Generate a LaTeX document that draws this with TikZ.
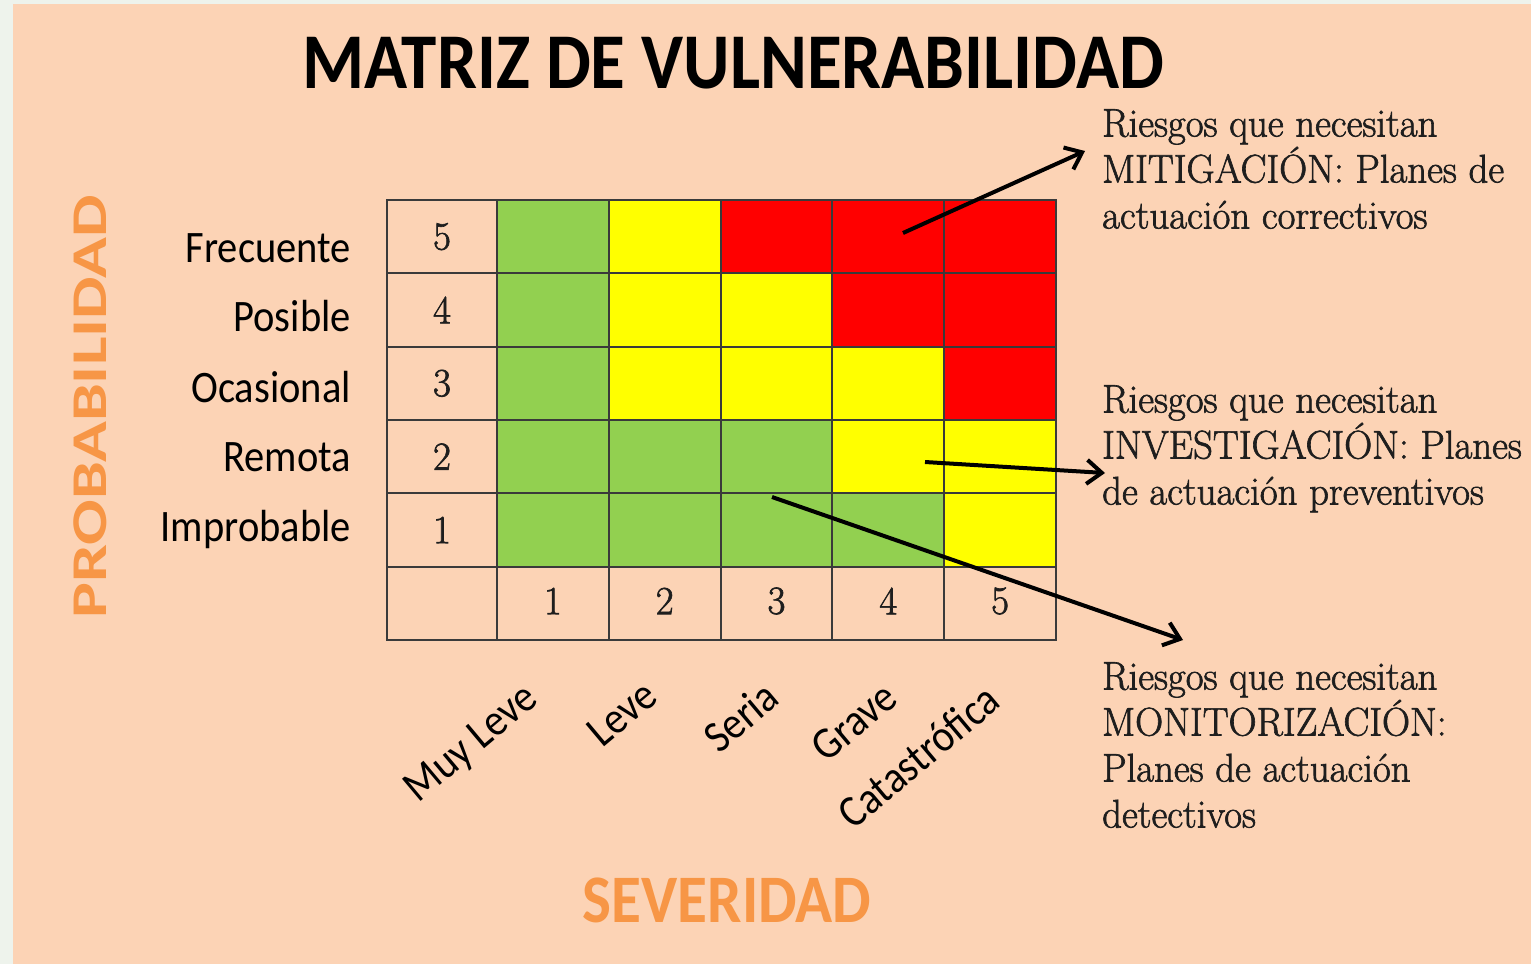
\documentclass[tikz,border=0pt]{standalone}
\usepackage{fontspec}
\usetikzlibrary{arrows.meta}
\newfontfamily\calib[FakeStretch=0.9]{Carlito}
\newfontfamily\probfont[FakeStretch=1.35]{Carlito}
\newfontfamily\serifx[FakeStretch=0.97,FakeBold=1.6]{Latin Modern Roman}
\definecolor{peach}{HTML}{FCD3B5}
\definecolor{gcell}{HTML}{92D050}
\definecolor{ycell}{HTML}{FFFF00}
\definecolor{rcell}{HTML}{FF0000}
\definecolor{orng}{HTML}{F79646}
\definecolor{gridc}{HTML}{3A3A3A}
\definecolor{strip}{HTML}{EEF3EC}
\definecolor{ink}{HTML}{1E1E1E}
\begin{document}
\begin{tikzpicture}[x=1pt,y=-1pt,
  gridline/.style={draw=gridc,line width=2pt},
  num/.style={font=\serifx\fontsize{40}{44}\selectfont,text=ink,inner sep=0pt},
  rowlab/.style={font=\calib\fontsize{45}{50}\selectfont,anchor=base east,inner sep=0pt},
  collab/.style={font=\calib\fontsize{45}{50}\selectfont,anchor=base east,rotate=40,inner sep=0pt},
  note/.style={font=\serifx\fontsize{40}{46}\selectfont,text=ink,align=left,anchor=north west,inner sep=0pt},
  pointer/.style={line width=4pt,-{Straight Barb[length=15pt,width=24pt,line width=4pt]}}]
\useasboundingbox (0,0) rectangle (1531,964);
\fill[strip] (0,0) rectangle (1531,964);
\fill[peach] (13,4) rectangle (1531,964);
% title
\node[font=\calib\bfseries\fontsize{79}{90}\selectfont,anchor=base,inner sep=0pt] (title) at (733,88) {MATRIZ DE VULNERABILIDAD};
% cells
\foreach \row [count=\r] in {{gcell,ycell,rcell,rcell,rcell},{gcell,ycell,ycell,rcell,rcell},{gcell,ycell,ycell,ycell,rcell},{gcell,gcell,gcell,ycell,ycell},{gcell,gcell,gcell,gcell,ycell}}{
  \foreach \c [count=\k] in \row {
    \fill[\c] ({497+(\k-1)*111.8},{200+(\r-1)*73.33}) rectangle ++(111.8,73.33);
  }
}
% grid
\foreach \k in {1,...,5} \draw[gridline] ({497+(\k-1)*111.8},200) -- ({497+(\k-1)*111.8},640);
\foreach \k in {1,...,5} \draw[gridline] (387,{200+\k*73.33}) -- (1056,{200+\k*73.33});
\draw[gridline] (387,200) rectangle (1056,640);
% numbers
\foreach \n [count=\r] in {5,4,3,2,1} \node[num] (p\n) at (442,{200+(\r-0.5)*73.33}) {\n};
\foreach \n in {1,...,5} \node[num] (s\n) at ({497+(\n-0.5)*111.8},601) {\n};
% row labels
\node[rowlab] (lf) at (351,262) {Frecuente};
\node[rowlab] (lp) at (351,331) {Posible};
\node[rowlab] (lo) at (351,402) {Ocasional};
\node[rowlab] (lr) at (351,471) {Remota};
\node[rowlab] (li) at (351,541) {Improbable};
% column labels
\node[collab] (cml) at (540,702) {Muy Leve};
\node[collab] (cl) at (660,700) {Leve};
\node[collab] (cs) at (782,702) {Seria};
\node[collab] (cg) at (900,702) {Grave};
\node[collab] (cc) at (1003,705) {Catastrófica};
% axis labels
\node[font=\probfont\bfseries\fontsize{50}{55}\selectfont,text=orng,rotate=90,anchor=base,inner sep=0pt] (prob) at (106,407) {PROBABILIDAD};
\node[font=\calib\bfseries\fontsize{68}{75}\selectfont,text=orng,anchor=base,inner sep=0pt] (sev) at (727,922) {SEVERIDAD};
% notes
\node[note] (nmit) at (1102,109) {Riesgos que necesitan\\MITIGACIÓN: Planes de\\actuación correctivos};
\node[note] (ninv) at (1102,385) {Riesgos que necesitan\\INVESTIGACIÓN: Planes\\de actuación preventivos};
\node[note] (nmon) at (1102,662) {Riesgos que necesitan\\MONITORIZACIÓN:\\Planes de actuación\\detectivos};
% arrows
\coordinate (a1s) at (903,233); \coordinate (a1e) at (1085,151);
\coordinate (a2s) at (925,462); \coordinate (a2e) at (1105,473);
\coordinate (a3s) at (772,497); \coordinate (a3e) at (1183,640);
\draw[pointer] (a1s) -- (a1e);
\draw[pointer] (a2s) -- (a2e);
\draw[pointer] (a3s) -- (a3e);
\end{tikzpicture}
\end{document}
